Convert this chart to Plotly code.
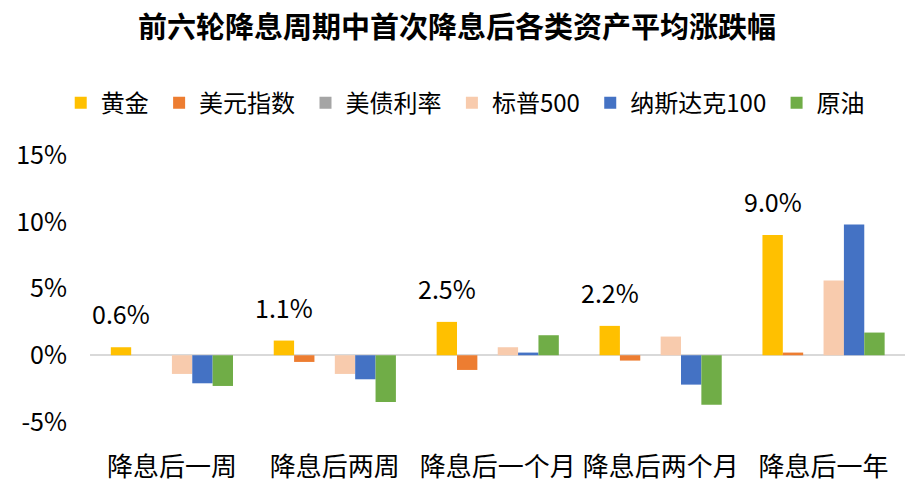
import plotly.graph_objects as go

categories = ["降息后一周", "降息后两周", "降息后一个月", "降息后两个月", "降息后一年"]
series_names = ["黄金", "美元指数", "美债利率", "标普500", "纳斯达克100", "原油"]
gold = [0.006, 0.011, 0.025, 0.022, 0.090]
usd = [0.0, -0.005, -0.011, -0.004, 0.002]
ust = [0.0, 0.0, 0.0, 0.0, 0.0]
spx = [-0.014, -0.014, 0.006, 0.014, 0.056]
ndx = [-0.021, -0.018, 0.002, -0.022, 0.098]
oil = [-0.023, -0.035, 0.015, -0.037, 0.017]
series_values = [gold, usd, ust, spx, ndx, oil]
colors = ["#FFC000", "#ED7D31", "#A5A5A5", "#F8CBAD", "#4472C4", "#70AD47"]
y_ticks = [-0.05, 0.0, 0.05, 0.10, 0.15]
y_tick_labels = ["-5%", "0%", "5%", "10%", "15%"]

FONT = "Noto Sans CJK SC"

fig = go.Figure()
for k, (name, vals, col) in enumerate(zip(series_names, series_values, colors)):
    pad = "\u00a0" if k < len(series_names) - 1 else ""
    fig.add_trace(go.Bar(x=categories, y=vals, name=name + pad, marker_color=col,
                         marker_line_width=0))

bargap = 0.25
bw = (1 - bargap) / len(series_names)
gold_offset = -(1 - bargap) / 2 + bw / 2
for i, v in enumerate(gold):
    fig.add_annotation(x=i + gold_offset, y=v, text=f"{v*100:.1f}%",
                       showarrow=False, yanchor="bottom", yshift=14,
                       font=dict(family=FONT, size=25, color="#000000"))

fig.update_layout(
    width=914, height=484,
    margin=dict(l=90, r=9, t=155, b=62),
    paper_bgcolor="white", plot_bgcolor="white",
    barmode="group", bargap=bargap, bargroupgap=0,
    font=dict(family=FONT, color="#000000"),
    title=dict(text="<b>前六轮降息周期中首次降息后各类资产平均涨跌幅</b>",
               x=0.5, xanchor="center", xref="container", y=0.943, yanchor="middle",
               font=dict(family=FONT, size=29, color="#000000")),
    legend=dict(orientation="h", xref="container", x=0.509, xanchor="center",
                yref="container", y=0.787, yanchor="middle",
                font=dict(family=FONT, size=24, color="#000000"),
                itemwidth=30, traceorder="normal"),
    xaxis=dict(showline=False, showgrid=False, ticks="", automargin=False,
               tickfont=dict(family=FONT, size=26, color="#000000"),
               ticklabelstandoff=27),
    yaxis=dict(range=[-0.05, 0.15], tickvals=y_ticks, ticktext=y_tick_labels,
               showgrid=False, zeroline=True, zerolinecolor="#D9D9D9", zerolinewidth=2,
               showline=False, ticks="", automargin=False,
               tickfont=dict(family=FONT, size=25, color="#000000"),
               ticklabelstandoff=22),
)

fig.write_html("out.html")
